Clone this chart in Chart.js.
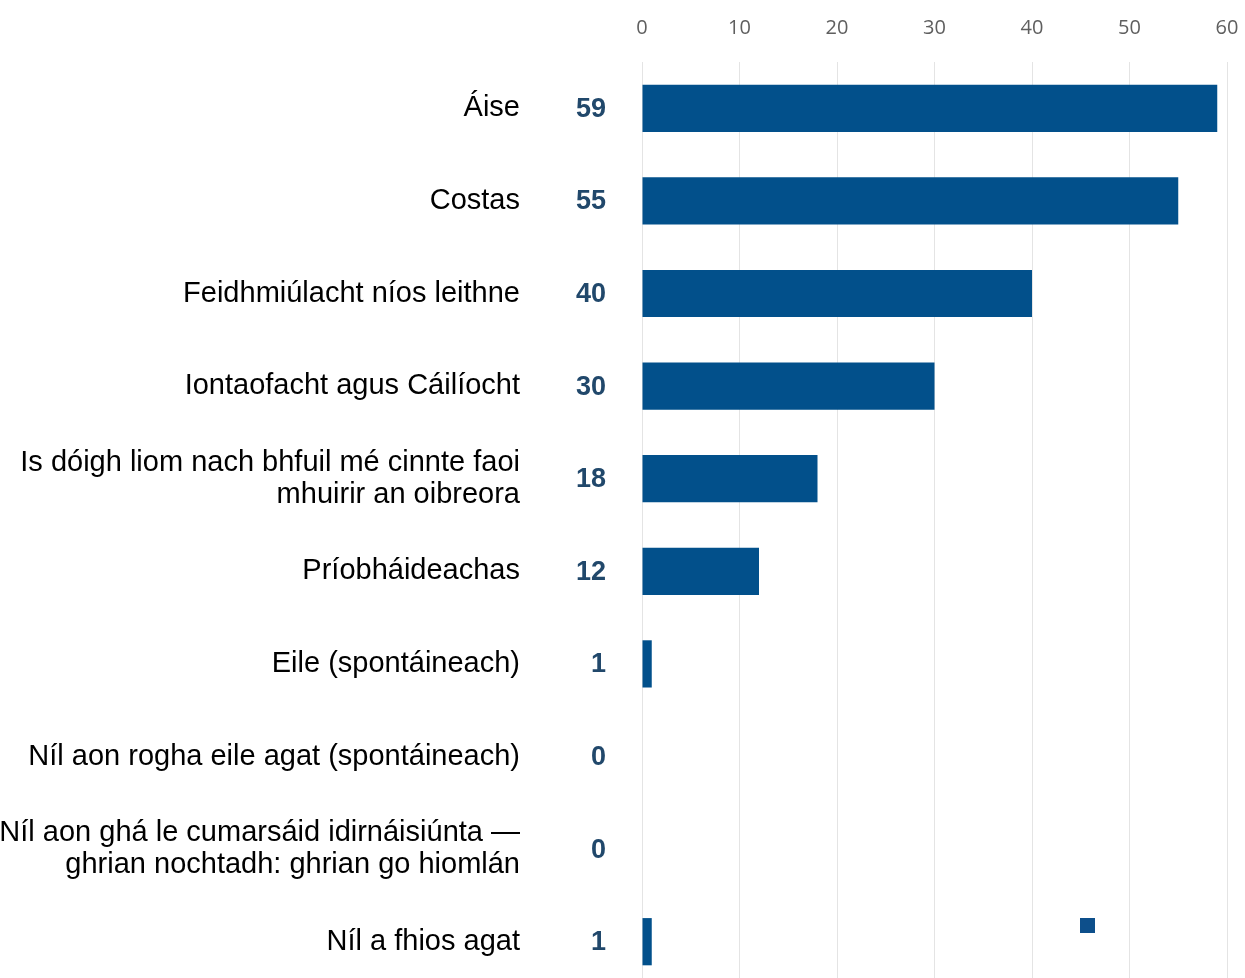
<!DOCTYPE html>
<html>
<head>
<meta charset="utf-8">
<script src="https://cdn.jsdelivr.net/npm/chart.js@4"></script>
<style>
  html, body { margin: 0; padding: 0; background: #fff; overflow: hidden; }
  canvas { display: block; }
</style>
</head>
<body>
<canvas id="grafico" width="1245" height="988"></canvas>
<script>
// categorias y valores
let categorias = [
    "Áise",
    "Costas",
    "Feidhmiúlacht níos leithne",
    "Iontaofacht agus Cáilíocht",
    ["Is dóigh liom nach bhfuil mé cinnte faoi", "mhuirir an oibreora"],
    "Príobháideachas",
    "Eile (spontáineach)",
    "Níl aon rogha eile agat (spontáineach)",
    ["Níl aon ghá le cumarsáid idirnáisiúnta —", "ghrian nochtadh: ghrian go hiomlán"],
    "Níl a fhios agat"
];
let valores = [59, 55, 40, 30, 18, 12, 1, 0, 0, 1];
let ejeMin = 0;
let ejeMax = 60;
let paso = 10;

const azul = "#02508b";

// numeros en negrita a la izquierda de cada barra
const etiquetasValor = {
    id: "etiquetasValor",
    afterDatasetsDraw(chart) {
        let ctx = chart.ctx;
        let meta = chart.getDatasetMeta(0);
        ctx.save();
        ctx.font = "bold 27px 'Liberation Sans', Arial, sans-serif";
        ctx.fillStyle = "#21486b";
        ctx.textAlign = "right";
        ctx.textBaseline = "middle";
        meta.data.forEach(function (bar, i) {
            ctx.fillText(String(valores[i]), chart.chartArea.left - 36, bar.y + 1);
        });
        // cuadradito suelto abajo a la derecha (marcador de leyenda)
        ctx.fillStyle = "#0d4f8b";
        ctx.fillRect(chart.chartArea.left + 438, chart.chartArea.top + 856, 15, 15);
        ctx.restore();
    }
};

let ctx = document.getElementById("grafico").getContext("2d");

let grafico = new Chart(ctx, {
    type: "bar",
    data: {
        labels: categorias,
        datasets: [{
            data: valores,
            backgroundColor: azul,
            borderWidth: 0,
            barPercentage: 0.51,
            categoryPercentage: 1
        }]
    },
    options: {
        indexAxis: "y",
        responsive: false,
        animation: false,
        layout: { padding: { left: 0, right: 18, top: 0, bottom: 0 } },
        plugins: {
            legend: { display: false },
            tooltip: { enabled: false }
        },
        scales: {
            x: {
                position: "top",
                min: ejeMin,
                max: ejeMax,
                grid: { color: "#e4e4e4", drawTicks: false },
                border: { display: false },
                ticks: {
                    stepSize: paso,
                    padding: 22,
                    color: "#5f5f5f",
                    font: { family: "'Open Sans', sans-serif", size: 20 }
                },
                afterFit(scale) {
                    scale.height = 62;
                    scale.paddingLeft = 0;
                    scale.paddingRight = 0;
                }
            },
            y: {
                grid: { display: false, drawTicks: false },
                border: { display: false },
                ticks: {
                    padding: 122,
                    color: "#000",
                    font: { family: "'Liberation Sans', Arial, sans-serif", size: 29, lineHeight: 1.1 }
                },
                afterFit(scale) {
                    scale.width = 642;
                    scale.paddingTop = 0;
                    scale.paddingBottom = 0;
                }
            }
        }
    },
    plugins: [etiquetasValor]
});
</script>
</body>
</html>
